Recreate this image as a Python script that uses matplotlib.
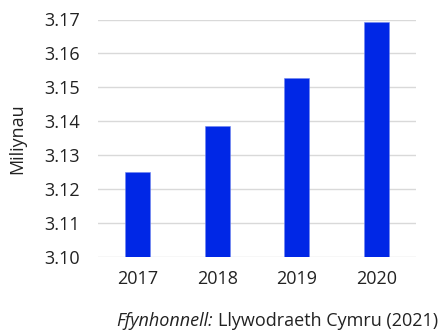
import matplotlib
matplotlib.use("Agg")
import matplotlib.pyplot as plt

years = ["2017", "2018", "2019", "2020"]
population_millions = [3.125, 3.1385, 3.1528, 3.1694]
y_ticks = [3.10, 3.11, 3.12, 3.13, 3.14, 3.15, 3.16, 3.17]

plt.rcParams["font.family"] = ["Open Sans", "DejaVu Sans"]
FS = 13
TXT = "#222222"

fig = plt.figure(figsize=(4.39, 3.31), dpi=100)
ax = fig.add_axes([98 / 439, 1 - 257 / 331, 318 / 439, (257 - 19.5) / 331])

x = range(len(years))
ax.bar(x, population_millions, width=0.31, color="#0027E6", zorder=3,
       edgecolor="#6f86f0", linewidth=0.4)

ax.set_xlim(-0.5, len(years) - 0.5)
ax.set_ylim(3.10, 3.17)
ax.set_yticks(y_ticks)
ax.set_yticklabels([f"{v:.2f}" for v in y_ticks])
ax.set_xticks(list(x))
ax.set_xticklabels(years)

ax.grid(axis="y", color="#d9d9d9", linewidth=1.0, zorder=0)
ax.set_axisbelow(True)
for s in ax.spines.values():
    s.set_visible(False)
ax.tick_params(axis="both", length=0, labelsize=FS, colors=TXT)
ax.tick_params(axis="y", pad=13)
ax.tick_params(axis="x", pad=9)

ax.set_ylabel("Miliynau", fontsize=FS, color=TXT, labelpad=13)

src = fig.text(438 / 439, 1 - 321 / 331, "Llywodraeth Cymru (2021)",
               ha="right", va="center", fontsize=FS, color=TXT)
fig.canvas.draw()
bb = src.get_window_extent()
fig.text((bb.x0 - 5) / fig.bbox.width, 1 - 321 / 331, "Ffynhonnell:",
         ha="right", va="center", fontsize=FS, color=TXT, style="italic")

fig.savefig("out.png", dpi=100)
